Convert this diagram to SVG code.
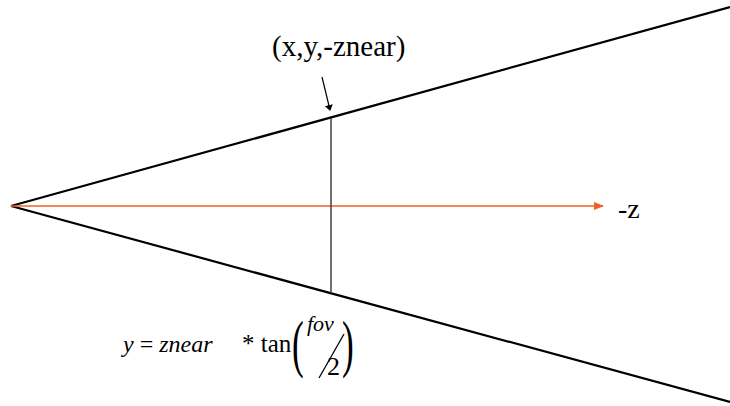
<svg xmlns="http://www.w3.org/2000/svg" width="730" height="406" viewBox="0 0 730 406">
<style>
text{font-family:'Liberation Serif','DejaVu Serif','Times New Roman',serif;fill:#000}
.i{font-style:italic}
.edge{stroke:#000;stroke-width:2.2;fill:none}
</style>
<defs>
<marker id="ao" markerWidth="10" markerHeight="8" refX="9" refY="4" orient="auto" markerUnits="userSpaceOnUse"><path d="M0,0 L10,4 L0,8 Z" fill="#f0602a"/></marker>
<marker id="ab" markerWidth="6" markerHeight="8" refX="5" refY="4" orient="auto" markerUnits="userSpaceOnUse"><path d="M0,0 L6,4 L0,8 Z" fill="#000"/></marker>
</defs>
<rect width="730" height="406" fill="#fff"/>
<g id="frustum">
<line class="edge" x1="11" y1="206" x2="730" y2="7"/>
<line class="edge" x1="11" y1="206" x2="730" y2="402"/>
</g>
<g id="connectors">
<line x1="11" y1="206" x2="603" y2="206" stroke="#f0602a" stroke-width="1.5" marker-end="url(#ao)"/>
<line x1="331" y1="118" x2="331" y2="293" stroke="#404040" stroke-width="1.5"/>
<line x1="322" y1="77" x2="330" y2="110" stroke="#000" stroke-width="1.2" marker-end="url(#ab)"/>
</g>
<g id="label-point"><text x="272" y="56" font-size="29">(x,y,-znear)</text></g>
<g id="label-z"><text x="618" y="218" font-size="28">-z</text></g>
<g id="formula">
<text x="123" y="352" font-size="24"><tspan class="i">y</tspan> = <tspan class="i">znear</tspan></text>
<text x="242" y="352" font-size="25">* tan</text>
<text x="292" y="365" font-size="64" transform="translate(292 365) scale(0.55 1) translate(-292 -365)">(</text>
<text class="i" x="307" y="331" font-size="22">fov</text>
<line x1="319" y1="378" x2="344" y2="334" stroke="#000" stroke-width="1.3"/>
<text x="327" y="375" font-size="26">2</text>
<text x="342" y="365" font-size="64" transform="translate(342 365) scale(0.55 1) translate(-342 -365)">)</text>
</g>
</svg>
